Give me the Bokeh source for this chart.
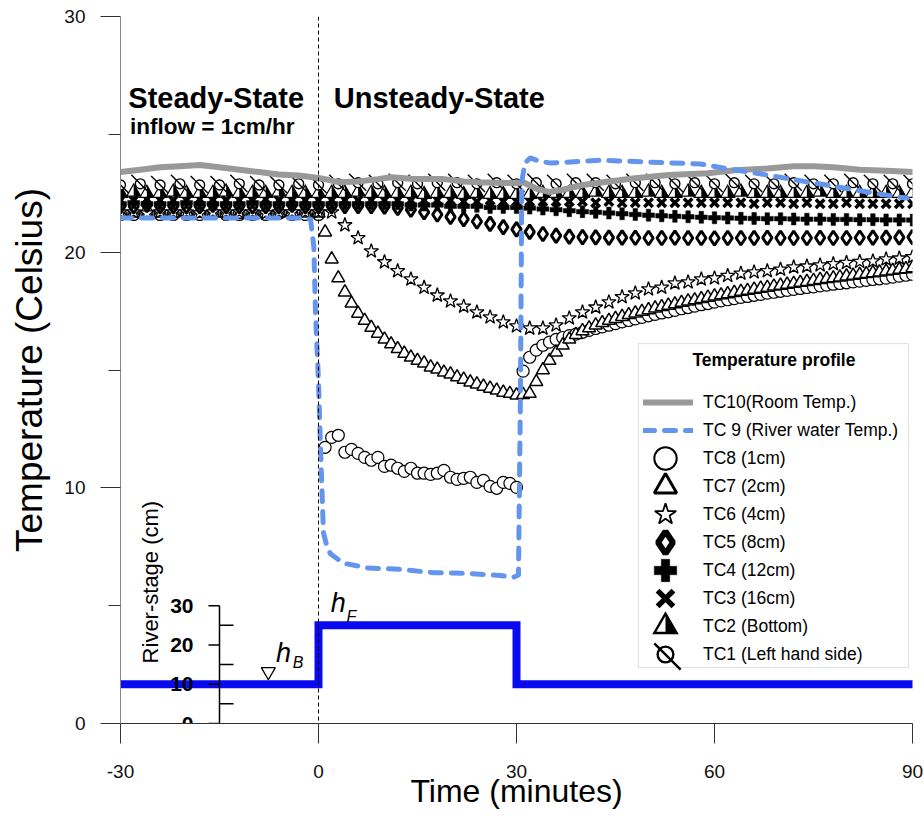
import math
from bokeh.plotting import figure
from bokeh.models import (ColumnDataSource, Range1d, Span, Label, Legend, LegendItem,
                          FixedTicker, CustomJS, BoxAnnotation)
from bokeh.core.properties import value
from bokeh.embed import file_html
from bokeh.resources import INLINE

FONT = "Liberation Sans"

# ---------------- axis ticks ----------------
X_TICKS = [-30, 0, 30, 60, 90]
X_TICK_LABELS = ["-30", "0", "30", "60", "90"]
Y_TICKS = [0, 10, 20, 30]
Y_MINOR = [5, 15, 25]
STAGE_TICKS = [0, 10, 20, 30]
STAGE_MINOR = [5, 15, 25]
STAGE_TICK_LABELS = ["0", "10", "20", "30"]

# ---------------- sampling times (minutes) ----------------
T3 = [-30, -27, -24, -21, -18, -15, -12, -9, -6, -3, 0, 3, 6, 9, 12, 15, 18, 21, 24, 27, 30,
      33, 36, 39, 42, 45, 48, 51, 54, 57, 60, 63, 66, 69, 72, 75, 78, 81, 84, 87, 90]
T_SS2 = [-30, -28, -26, -24, -22, -20, -18, -16, -14, -12, -10, -8, -6, -4, -2, 0]
T_US2 = [2, 4, 6, 8, 10, 12, 14, 16, 18, 20, 22, 24, 26, 28, 30]
T_RC2 = [32, 34, 36, 38, 40, 42, 44, 46, 48, 50, 52, 54, 56, 58, 60, 62, 64, 66, 68, 70,
         72, 74, 76, 78, 80, 82, 84, 86, 88, 90]
T_US1 = [1, 2, 3, 4, 5, 6, 7, 8, 9, 10, 11, 12, 13, 14, 15, 16, 17, 18, 19, 20,
         21, 22, 23, 24, 25, 26, 27, 28, 29, 30]
T_RC1 = [31, 32, 33, 34, 35, 36, 37, 38, 39, 40, 41, 42, 43, 44, 45, 46, 47, 48, 49, 50,
         51, 52, 53, 54, 55, 56, 57, 58, 59, 60, 61, 62, 63, 64, 65, 66, 67, 68, 69, 70,
         71, 72, 73, 74, 75, 76, 77, 78, 79, 80, 81, 82, 83, 84, 85, 86, 87, 88, 89, 90]

# ---------------- temperatures (Celsius) ----------------
TC1 = [22.85, 22.9, 22.85, 22.9, 22.85, 22.85, 22.9, 22.85, 22.85, 22.9, 22.85,
       22.9, 22.95, 22.9, 22.95, 22.9, 22.95, 22.95, 22.9, 22.95, 22.9,
       22.95, 22.9, 22.95, 22.95, 22.9, 22.95, 22.95, 22.9, 22.95, 22.9,
       22.95, 22.9, 22.9, 22.95, 22.9, 22.9, 22.95, 22.9, 22.9, 22.9]
TC2 = [22.5, 22.55, 22.5, 22.5, 22.55, 22.5, 22.5, 22.5, 22.55, 22.5, 22.5, 22.5, 22.55, 22.5, 22.5, 22.5,
       22.5, 22.5, 22.55, 22.5, 22.5, 22.5, 22.5, 22.45, 22.5, 22.5, 22.45, 22.5, 22.45, 22.45, 22.45,
       22.45, 22.5, 22.5, 22.5, 22.5, 22.55, 22.5, 22.5, 22.5, 22.55, 22.5, 22.5, 22.55, 22.5, 22.5,
       22.5, 22.55, 22.5, 22.5, 22.5, 22.5, 22.5, 22.55, 22.5, 22.5, 22.5, 22.5, 22.5, 22.5, 22.5]
TC3 = [22.2, 22.2, 22.25, 22.2, 22.2, 22.2, 22.25, 22.2, 22.2, 22.2, 22.2, 22.25, 22.2, 22.2, 22.2, 22.2,
       22.2, 22.2, 22.2, 22.2, 22.2, 22.2, 22.2, 22.2, 22.2, 22.2, 22.15, 22.15, 22.2, 22.15, 22.15,
       22.15, 22.15, 22.15, 22.15, 22.15, 22.1, 22.15, 22.1, 22.1, 22.1, 22.1, 22.1, 22.1, 22.1, 22.1,
       22.1, 22.1, 22.05, 22.1, 22.1, 22.05, 22.1, 22.05, 22.05, 22.1, 22.05, 22.05, 22.05, 22.05, 22.05]
TC4 = [22.05, 22.1, 22.05, 22.05, 22.05, 22.1, 22.05, 22.05, 22.05, 22.05, 22.1, 22.05, 22.05, 22.05, 22.05, 22.05,
       22.05, 22.05, 22.05, 22.05, 22.05, 22.05, 22.0, 22.0, 22.0, 21.95, 21.95, 21.95, 21.9, 21.9, 21.9,
       21.87, 21.83, 21.8, 21.76, 21.72, 21.69, 21.66, 21.63, 21.6, 21.57, 21.54, 21.52, 21.5, 21.48, 21.46,
       21.45, 21.44, 21.43, 21.42, 21.42, 21.41, 21.4, 21.4, 21.39, 21.39, 21.38, 21.38, 21.37, 21.37, 21.36]
TC5 = [21.95, 21.95, 22.0, 21.95, 21.95, 21.95, 21.95, 22.0, 21.95, 21.95, 21.95, 21.95, 21.95, 22.0, 21.95, 21.95,
       21.95, 21.95, 21.95, 21.95, 21.93, 21.88, 21.8, 21.7, 21.6, 21.5, 21.4, 21.3, 21.2, 21.06, 20.97,
       20.86, 20.77, 20.7, 20.66, 20.64, 20.63, 20.62, 20.62, 20.61, 20.6, 20.6, 20.61, 20.6, 20.6, 20.59,
       20.6, 20.6, 20.6, 20.61, 20.6, 20.6, 20.6, 20.61, 20.6, 20.6, 20.61, 20.62, 20.62, 20.63, 20.64]
TC6 = [21.7, 21.7, 21.65, 21.7, 21.7, 21.7, 21.65, 21.7, 21.7, 21.7, 21.7, 21.65, 21.7, 21.7, 21.7, 21.7,
       21.7, 21.15, 20.6, 20.04, 19.58, 19.2, 18.85, 18.5, 18.17, 17.92, 17.7, 17.45, 17.24, 17.03, 16.86,
       16.77, 16.77, 16.9, 17.2, 17.45, 17.66, 17.88, 18.1, 18.26, 18.43, 18.5, 18.68, 18.73, 18.85, 18.9,
       19.0, 19.1, 19.15, 19.2, 19.27, 19.36, 19.4, 19.45, 19.5, 19.55, 19.6, 19.62, 19.7, 19.74, 19.8]
TC7_SS = [21.65, 21.65, 21.6, 21.65, 21.65, 21.7, 21.65, 21.65, 21.65, 21.6, 21.65, 21.65, 21.65, 21.7, 21.65, 21.65]
TC7_US = [20.85, 19.7, 18.9, 18.3, 17.83, 17.4, 17.1, 16.8, 16.55, 16.3, 16.1, 15.9, 15.7, 15.54, 15.4,
          15.29, 15.12, 15.03, 14.9, 14.82, 14.7, 14.6, 14.48, 14.4, 14.3, 14.22, 14.14, 14.05, 14.0, 13.93]
TC7_RC = [13.95, 14.0, 14.5, 15.0, 15.4, 15.75, 16.05, 16.3, 16.5, 16.66, 16.78, 16.9, 17.0, 17.1, 17.18,
          17.26, 17.34, 17.41, 17.48, 17.55, 17.62, 17.68, 17.74, 17.8, 17.86, 17.92, 17.97, 18.02, 18.08, 18.13,
          18.18, 18.23, 18.28, 18.33, 18.37, 18.42, 18.46, 18.5, 18.55, 18.59, 18.63, 18.67, 18.71, 18.75, 18.79,
          18.83, 18.87, 18.9, 18.94, 18.98, 19.01, 19.05, 19.08, 19.12, 19.15, 19.19, 19.22, 19.26, 19.29, 19.33]
TC8_SS = [21.6, 21.6, 21.65, 21.6, 21.6, 21.6, 21.6, 21.65, 21.6, 21.6, 21.6, 21.6, 21.65, 21.6, 21.6, 21.6]
TC8_US = [11.72, 12.14, 12.23, 11.51, 11.63, 11.46, 11.29, 11.17, 11.29, 10.91, 10.96, 10.83, 10.70, 10.83, 10.62,
          10.62, 10.57, 10.62, 10.74, 10.45, 10.36, 10.40, 10.45, 10.23, 10.32, 10.06, 9.98, 10.23, 10.19, 10.02]
TC8_RC = [14.95, 15.54, 15.84, 16.05, 16.18, 16.3, 16.38, 16.46, 16.52, 16.6, 16.68, 16.76, 16.83, 16.9, 16.97,
          17.04, 17.1, 17.17, 17.23, 17.3, 17.36, 17.42, 17.47, 17.53, 17.6, 17.65, 17.71, 17.77, 17.82, 17.88,
          17.93, 17.98, 18.03, 18.08, 18.12, 18.17, 18.21, 18.26, 18.3, 18.34, 18.38, 18.42, 18.46, 18.5, 18.53,
          18.57, 18.6, 18.64, 18.67, 18.7, 18.74, 18.77, 18.8, 18.84, 18.87, 18.9, 18.94, 18.98, 19.02, 19.06]

# river water temperature (TC9)
TC9_T = [-30, -20, -10, -2, -1.2, -0.7, -0.45, 0, 0.3, 0.75, 1.2, 1.8, 3.8, 7.4, 12.4, 17.4, 22.6, 27.6,
         29.5, 30.3, 30.6, 30.8, 31.3, 32.1, 33.5, 35.2, 42.7, 50.3, 57.9, 62.9, 68, 73, 78, 83.2, 88.2, 89.2]
TC9_V = [21.45, 21.45, 21.45, 21.45, 21.4, 20.2, 17.4, 14.5, 11.7, 8.1, 7.6, 7.2, 6.8, 6.6, 6.54, 6.4, 6.37, 6.28,
         6.2, 6.3, 14.0, 23.0, 23.8, 24.0, 23.85, 23.78, 23.9, 23.82, 23.74, 23.5, 23.27, 23.03, 22.8, 22.55, 22.33, 22.3]
# room temperature (TC10)
TC10_T = [-30, -27, -24, -21, -18, -15, -12, -9, -6, -3, 0, 1, 3, 6, 9, 11, 14, 17, 19, 22, 24, 27, 30,
          31, 33, 35, 37, 40, 44, 48, 53, 59, 63, 68, 72, 75, 78, 82, 86, 90]
TC10_V = [23.4, 23.5, 23.6, 23.65, 23.7, 23.6, 23.5, 23.4, 23.3, 23.25, 23.15, 23.1, 22.97, 23.0, 23.1, 23.18,
          23.12, 23.1, 23.1, 23.0, 22.97, 22.95, 22.93, 22.97, 22.7, 22.55, 22.65, 22.85, 23.0, 23.14, 23.27,
          23.35, 23.48, 23.55, 23.65, 23.65, 23.6, 23.5, 23.45, 23.4]

# river stage (cm)
STAGE_T = [-30, 0, 0, 30, 30, 90]
STAGE_CM = [10, 10, 25, 25, 10, 10]
HB_MARK_T = [-7.6]
HB_MARK_CM = [13.2]

# ---------------- layout / styles ----------------
INSET_AXIS_T = -15
LEGEND_FRAME = dict(left=48.48, right=89.39, bottom=2.38, top=16.12)  # legend frame, axis units
LEGEND_TITLE_AT = (69.0, 15.42)
FRAME_BOTTOM_PX = 723       # frame bottom / left in canvas pixels (min borders below)
FRAME_LEFT_PX = 120
LEG_ROW0_PX = 402           # centre of first legend row (canvas px)
LEG_ROW_STEP = 28
LEG_TEXT_X_PX = 703
BLACK = "#000000"
NAN = float("nan")

p = figure(width=924, height=818, x_range=Range1d(-30, 90), y_range=Range1d(0, 30),
           output_backend="svg", toolbar_location=None,
           min_border_left=120, min_border_right=12, min_border_top=16, min_border_bottom=95)
p.outline_line_color = None
p.grid.visible = False
p.background_fill_color = "white"
p.border_fill_color = "white"
p.extra_y_ranges = {"stage": Range1d(0, 180)}

xa = p.xaxis[0]
xa.ticker = FixedTicker(ticks=X_TICKS)
xa.major_label_overrides = {t: s for t, s in zip(X_TICKS, X_TICK_LABELS)}
xa.major_tick_out = 20
xa.major_tick_in = 0
xa.minor_tick_out = 0
xa.minor_tick_in = 0
xa.axis_line_color = "#333333"
xa.major_tick_line_color = "#333333"
xa.major_label_text_font = FONT
xa.major_label_text_font_size = "19px"
xa.major_label_text_color = "#111111"
xa.major_label_standoff = 21
xa.axis_label = "Time (minutes)"
xa.axis_label_text_font = FONT
xa.axis_label_text_font_size = "32px"
xa.axis_label_text_font_style = "normal"
xa.axis_label_text_color = BLACK
xa.axis_label_standoff = -8

ya = p.yaxis[0]
ya.ticker = FixedTicker(ticks=Y_TICKS, minor_ticks=Y_MINOR)
ya.major_tick_out = 20
ya.major_tick_in = 0
ya.minor_tick_out = 12
ya.minor_tick_in = 0
ya.axis_line_color = "#888888"
ya.major_tick_line_color = "#333333"
ya.minor_tick_line_color = "#333333"
ya.major_label_text_font = FONT
ya.major_label_text_font_size = "19px"
ya.major_label_text_color = "#111111"
ya.major_label_standoff = 15
ya.axis_label = "Temperature (Celsius)"
ya.axis_label_text_font = FONT
ya.axis_label_text_font_size = "37px"
ya.axis_label_text_font_style = "normal"
ya.axis_label_text_color = BLACK
ya.axis_label_standoff = 11

p.add_layout(Span(location=0, dimension="height", line_color=BLACK, line_width=1, line_dash="4 3"))

# ---------------- sources ----------------
s1 = ColumnDataSource(dict(t=T3, v=TC1))
s2 = ColumnDataSource(dict(t=T_SS2 + T_US2 + T_RC2, v=TC2))
s3 = ColumnDataSource(dict(t=T_SS2 + T_US2 + T_RC2, v=TC3))
s4 = ColumnDataSource(dict(t=T_SS2 + T_US2 + T_RC2, v=TC4))
s5 = ColumnDataSource(dict(t=T_SS2 + T_US2 + T_RC2, v=TC5))
s6 = ColumnDataSource(dict(t=T_SS2 + T_US2 + T_RC2, v=TC6))
s7 = ColumnDataSource(dict(t=T_SS2 + T_US1 + T_RC1, v=TC7_SS + TC7_US + TC7_RC))
s8 = ColumnDataSource(dict(t=T_SS2 + T_US1 + T_RC1, v=TC8_SS + TC8_US + TC8_RC))
s9 = ColumnDataSource(dict(t=TC9_T, v=TC9_V))
s10 = ColumnDataSource(dict(t=TC10_T, v=TC10_V))
s_stage = ColumnDataSource(dict(t=STAGE_T, v=STAGE_CM))
legend_src = ColumnDataSource(dict(t=[NAN], v=[NAN]))   # legend-only glyphs, nothing plotted

HALF_JS = """
const d = (typeof cb_data !== "undefined" && cb_data != null) ? cb_data : null;
if (d == null || d.ctx == null) return;
const ctx = d.ctx;
const r = d.r;
const h = r * Math.sqrt(3);
const a = h / 3;
ctx.beginPath();
ctx.moveTo(-r, a); ctx.lineTo(r, a); ctx.lineTo(0, a - h); ctx.closePath();
ctx.fillStyle = "white"; ctx.fill();
ctx.beginPath();
ctx.moveTo(0, a); ctx.lineTo(r, a); ctx.lineTo(0, a - h); ctx.closePath();
ctx.fillStyle = "black"; ctx.fill();
ctx.beginPath();
ctx.moveTo(-r, a); ctx.lineTo(r, a); ctx.lineTo(0, a - h); ctx.closePath();
ctx.lineWidth = LW; ctx.strokeStyle = "black"; ctx.stroke();
"""

STICK_JS = """
const d = (typeof cb_data !== "undefined" && cb_data != null) ? cb_data : null;
if (d == null || d.ctx == null) return;
const ctx = d.ctx;
const r = d.r;
ctx.beginPath();
ctx.arc(0, 0, r * CR, 0, 2 * Math.PI);
ctx.closePath();
ctx.fillStyle = "white"; ctx.fill();
ctx.lineWidth = LW; ctx.strokeStyle = "black"; ctx.stroke();
ctx.beginPath();
ctx.moveTo(-r * SA, -r * SA); ctx.lineTo(r * SB, r * SB);
ctx.lineWidth = LW; ctx.strokeStyle = "black"; ctx.stroke();
"""


def half_triangle(src, size, lw):
    try:
        return p.scatter("t", "v", source=src, size=size, marker="@halftri",
                         defs={"@halftri": CustomJS(code=HALF_JS.replace("LW", str(lw)))},
                         fill_color=None, line_color=BLACK, line_width=lw)
    except Exception:
        return p.scatter("t", "v", source=src, size=size, marker="triangle",
                         fill_color="white", line_color=BLACK, line_width=lw)


def circle_stick(src, size, lw, cr, sa, sb):
    code = (STICK_JS.replace("LW", str(lw)).replace("CR", str(cr))
            .replace("SA", str(sa)).replace("SB", str(sb)))
    try:
        return [p.scatter("t", "v", source=src, size=size, marker="@circstick",
                          defs={"@circstick": CustomJS(code=code)},
                          fill_color=None, line_color=BLACK, line_width=lw)]
    except Exception:
        return [p.scatter("t", "v", source=src, marker="dash", size=size, angle=-math.pi / 4,
                          line_color=BLACK, line_width=lw),
                p.scatter("t", "v", source=src, marker="circle", size=size * cr, fill_color="white",
                          line_color=BLACK, line_width=lw)]


# ---------------- measured series ----------------
p.scatter("t", "v", source=s8, marker="circle", size=12, fill_color="white", line_color=BLACK, line_width=1.2)
p.scatter("t", "v", source=s7, marker="triangle", size=13, fill_color="white", line_color=BLACK, line_width=1.5)
p.scatter("t", "v", source=s6, marker="star", size=15, fill_color="white", line_color=BLACK, line_width=1.3)
p.scatter("t", "v", source=s5, marker="diamond", size=14, fill_color="white", line_color=BLACK, line_width=3)
p.scatter("t", "v", source=s4, marker="plus", size=12, fill_color=BLACK, line_color=BLACK, line_width=0.5)
p.scatter("t", "v", source=s3, marker="x", size=12, line_color=BLACK, line_width=3.5)
half_triangle(s2, 14, 1.2)
circle_stick(s1, 18, 1.4, 0.55, 1.0, 0.9)

r10 = p.line("t", "v", source=s10, line_color="#999999", line_width=6, line_cap="round", line_join="round")
r9 = p.line("t", "v", source=s9, line_color="#6495ED", line_width=5, line_dash="11 10",
            line_cap="round", line_join="round")

# ---------------- river stage inset ----------------
p.line("t", "v", source=s_stage, y_range_name="stage", line_color="#0A0AF0", line_width=8,
       line_cap="round", line_join="miter")
p.segment(x0=[INSET_AXIS_T], y0=[STAGE_TICKS[0]], x1=[INSET_AXIS_T], y1=[STAGE_TICKS[-1]],
          y_range_name="stage", line_color=BLACK, line_width=1.5)
p.ray(x=[INSET_AXIS_T] * len(STAGE_TICKS), y=STAGE_TICKS, length=11, length_units="screen",
      angle=math.pi, y_range_name="stage", line_color=BLACK, line_width=1.5)
p.ray(x=[INSET_AXIS_T] * len(STAGE_MINOR), y=STAGE_MINOR, length=14, length_units="screen",
      angle=0, y_range_name="stage", line_color=BLACK, line_width=1.5)
p.text(x=[INSET_AXIS_T] * len(STAGE_TICKS), y=STAGE_TICKS, text=STAGE_TICK_LABELS, y_range_name="stage",
       x_offset=-26, text_align="right", text_baseline="middle", text_font=value(FONT),
       text_font_size="21px", text_font_style="bold", text_color=BLACK)
p.scatter(x=HB_MARK_T, y=HB_MARK_CM, y_range_name="stage", marker="inverted_triangle", size=14,
          fill_color="white", line_color=BLACK, line_width=1.3)

# ---------------- annotations ----------------
def lab(x, y, text, size, style="normal", angle=0.0, align="center"):
    p.add_layout(Label(x=x, y=y, text=text, text_font=FONT, text_font_size=size,
                       text_font_style=style, text_align=align, text_baseline="middle",
                       angle=angle, text_color=BLACK))

lab(-15.5, 26.55, "Steady-State", "29px", "bold")
lab(18.3, 26.55, "Unsteady-State", "29px", "bold")
lab(-16.1, 25.33, "inflow = 1cm/hr", "22.5px", "bold")
lab(-25.45, 6.0, "River-stage (cm)", "22px", "normal", math.pi / 2)
lab(-5.3, 3.0, "h", "27px", "italic")
lab(-3.1, 2.6, "B", "16px", "italic")
lab(3.0, 5.1, "h", "27px", "italic")
lab(5.0, 4.55, "F", "16px", "italic")

# ---------------- legend ----------------
p.add_layout(BoxAnnotation(fill_color=None, line_color="#999999", line_width=1, **LEGEND_FRAME))
lab(LEGEND_TITLE_AT[0], LEGEND_TITLE_AT[1], "Temperature profile", "17.5px", "bold")


def dummy(marker, lw, fill="white"):
    return p.scatter("t", "v", source=legend_src, marker=marker, size=20, fill_color=fill,
                     line_color=BLACK, line_width=lw)

d8 = dummy("circle", 2.0)
d7 = dummy("triangle", 3.0)
d6 = dummy("star", 1.8)
d5 = dummy("diamond", 6.0)
d4 = dummy("plus", 0.5, fill=BLACK)
d3 = dummy("x", 5.5)
d2 = half_triangle(legend_src, 20, 2.4)
d1 = circle_stick(legend_src, 20, 2.4, 0.7, 1.0, 1.35)

rows = [
    ("TC10(Room Temp.)", [r10], 50),
    ("TC 9 (River water Temp.)", [r9], 50),
    ("TC8 (1cm)", [d8], 56),
    ("TC7 (2cm)", [d7], 56),
    ("TC6 (4cm)", [d6], 56),
    ("TC5 (8cm)", [d5], 56),
    ("TC4 (12cm)", [d4], 56),
    ("TC3 (16cm)", [d3], 56),
    ("TC2 (Bottom)", [d2], 56),
    ("TC1 (Left hand side)", d1, 56),
]
GLYPH_H = 56
STANDOFF = 10
for i, (label, rends, gw) in enumerate(rows):
    centre = LEG_ROW0_PX + LEG_ROW_STEP * i
    loc_x = LEG_TEXT_X_PX - STANDOFF - gw - FRAME_LEFT_PX
    loc_y = FRAME_BOTTOM_PX - centre - GLYPH_H / 2
    p.add_layout(Legend(items=[LegendItem(label=label, renderers=rends)], location=(loc_x, loc_y),
                        padding=0, margin=0, spacing=0, glyph_width=gw, glyph_height=GLYPH_H,
                        label_height=20, label_standoff=STANDOFF, label_text_font=FONT,
                        label_text_font_size="17.5px", label_text_color=BLACK,
                        border_line_color=None, background_fill_alpha=0.0))

open("out.html", "w").write(file_html(p, INLINE))
